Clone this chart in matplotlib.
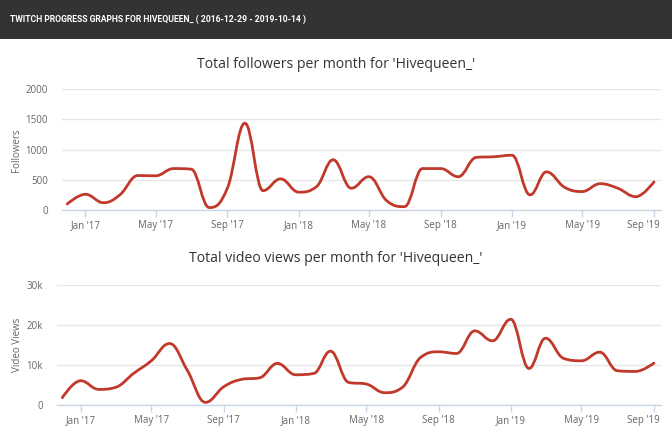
import numpy as np
import matplotlib
matplotlib.use("Agg")
import matplotlib.pyplot as plt
import matplotlib.dates as mdates
import matplotlib.transforms as mtransforms
from matplotlib.path import Path
from matplotlib.patches import PathPatch, Rectangle
from matplotlib.ticker import FixedLocator, FuncFormatter
import datetime as dt

# ---- data ----
months = [dt.date(2016, 12, 1)] + [dt.date(2017 + (m // 12), m % 12 + 1, 1) for m in range(0, 33)]
followers = [100, 260, 120, 250, 570, 565, 685, 675, 40, 360, 1435, 320, 515, 295, 390, 830,
             360, 550, 150, 55, 685, 685, 550, 870, 880, 905, 250, 630, 375, 305, 435, 360, 220, 465]
video_views = [1830, 6070, 3900, 4400, 7900, 11050, 15370, 8700, 660, 4570, 6400, 6800, 10400, 7560,
               7900, 13460, 5650, 5240, 3075, 4400, 11880, 13300, 12880, 18530, 16040, 21440, 9140,
               16700, 11630, 11050, 13210, 8560, 8390, 10470]
tick_dates = [dt.date(2017, 1, 1), dt.date(2017, 5, 1), dt.date(2017, 9, 1), dt.date(2018, 1, 1),
              dt.date(2018, 5, 1), dt.date(2018, 9, 1), dt.date(2019, 1, 1), dt.date(2019, 5, 1),
              dt.date(2019, 9, 1)]
header_text = "TWITCH PROGRESS GRAPHS FOR HIVEQUEEN_ ( 2016-12-29 - 2019-10-14 )"
title_top = "Total followers per month for 'Hivequeen_'"
title_bottom = "Total video views per month for 'Hivequeen_'"

LINE = "#c0392b"
GRID = "#e6e6e6"
AXIS = "#ccd6eb"
TXT = "#666666"
FONT = ["Open Sans", "DejaVu Sans"]

W, H = 672, 434
fig = plt.figure(figsize=(W / 100, H / 100), dpi=100)
fig.patch.set_facecolor("white")


def spline_path(xs, ys, smoothing=1.5):
    n = len(xs)
    denom = smoothing + 1
    lc = [None] * n
    rc = [None] * n
    for i in range(n):
        x, y = xs[i], ys[i]
        if 0 < i < n - 1:
            lx, ly = xs[i - 1], ys[i - 1]
            nx, ny = xs[i + 1], ys[i + 1]
            lcx = (smoothing * x + lx) / denom
            lcy = (smoothing * y + ly) / denom
            rcx = (smoothing * x + nx) / denom
            rcy = (smoothing * y + ny) / denom
            corr = ((rcy - lcy) * (rcx - x)) / (rcx - lcx) + y - rcy
            lcy += corr
            rcy += corr
            if lcy > ly and lcy > y:
                lcy = max(ly, y)
                rcy = 2 * y - lcy
            elif lcy < ly and lcy < y:
                lcy = min(ly, y)
                rcy = 2 * y - lcy
            if rcy > ny and rcy > y:
                rcy = max(ny, y)
                lcy = 2 * y - rcy
            elif rcy < ny and rcy < y:
                rcy = min(ny, y)
                lcy = 2 * y - rcy
            lc[i] = (lcx, lcy)
            rc[i] = (rcx, rcy)
        else:
            lc[i] = (x, y)
            rc[i] = (x, y)
    verts = [(xs[0], ys[0])]
    codes = [Path.MOVETO]
    for i in range(1, n):
        verts += [rc[i - 1], lc[i], (xs[i], ys[i])]
        codes += [Path.CURVE4] * 3
    return Path(verts, codes)


def px(x0, y0, x1, y1):
    return [x0 / W, 1 - y1 / H, (x1 - x0) / W, (y1 - y0) / H]


xlim = (mdates.date2num(dt.date(2016, 11, 22)), mdates.date2num(dt.date(2019, 9, 13)))


def make_axes(rect, values, ymax, yticks, yfmt, ylabel, title, title_y, ylabel_y):
    ax = fig.add_axes(rect)
    xs = mdates.date2num(months)
    p = spline_path(list(xs), list(values))
    ax.add_patch(PathPatch(p, facecolor="none", edgecolor=LINE, lw=2, capstyle="round",
                           joinstyle="round"))
    ax.set_xlim(*xlim)
    ax.set_ylim(0, ymax)
    ax.yaxis.set_major_locator(FixedLocator(yticks))
    ax.yaxis.set_major_formatter(FuncFormatter(yfmt))
    ax.xaxis.set_major_locator(FixedLocator(mdates.date2num(tick_dates)))
    ax.xaxis.set_major_formatter(FuncFormatter(lambda v, p: mdates.num2date(v).strftime("%b '%y")))
    for s in ["top", "right", "left"]:
        ax.spines[s].set_visible(False)
    ax.spines["bottom"].set_color(AXIS)
    ax.spines["bottom"].set_linewidth(1)
    ax.grid(axis="y", color=GRID, lw=1)
    ax.set_axisbelow(True)
    ax.tick_params(axis="y", length=0, pad=10, labelsize=7, labelcolor=TXT)
    ax.tick_params(axis="x", length=5, width=1, color=AXIS, pad=2, labelsize=7, labelcolor=TXT)
    for lab in ax.get_xticklabels() + ax.get_yticklabels():
        lab.set_fontfamily(FONT)
    labs = ax.get_xticklabels()
    labs[-1].set_horizontalalignment("right")
    labs[-1].set_transform(labs[-1].get_transform() +
                           mtransforms.ScaledTranslation(6 / 100, 0, fig.dpi_scale_trans))
    ax.set_ylabel(ylabel, fontsize=7, color=TXT, family=FONT, va="center")
    ax.yaxis.set_label_coords(17 / W, 1 - ylabel_y / H, transform=fig.transFigure)
    fig.text(0.5, 1 - title_y / H, title, ha="center", va="center", fontsize=10.1,
             color="#333333", family=FONT)
    return ax


ax1 = make_axes(px(62, 89, 661, 210), followers, 2000, [0, 500, 1000, 1500, 2000],
                lambda v, p: f"{int(v)}", "Followers", title_top, 65, 150)
ax2 = make_axes(px(57, 285, 661, 405), video_views, 30000, [0, 10000, 20000, 30000],
                lambda v, p: "0" if v == 0 else f"{int(v/1000)}k", "Video Views", title_bottom, 258, 345)

# header bar
fig.add_artist(Rectangle((0, 1 - 39 / H), 1, 39 / H, transform=fig.transFigure,
                         facecolor="#333333", edgecolor="none", zorder=0))
fig.text(10 / W, 1 - 19 / H, header_text, ha="left", va="center", color="white",
         fontsize=6.2, fontweight="bold", family=["Liberation Sans Narrow", "Roboto", "DejaVu Sans"])

fig.savefig("out.png", dpi=100)
